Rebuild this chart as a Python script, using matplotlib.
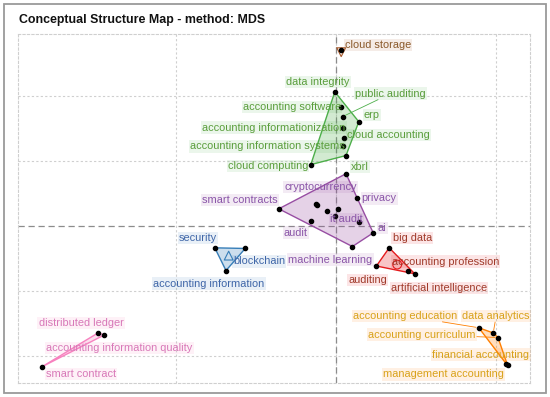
import numpy as np
import matplotlib
matplotlib.use("Agg")
import matplotlib.pyplot as plt
from matplotlib.patches import Polygon, Rectangle

plt.rcParams['font.family'] = ['Liberation Sans', 'DejaVu Sans']

# clusters: words, Dim1, Dim2
green_words = ["data integrity", "accounting software", "public auditing", "erp",
               "accounting informationization", "cloud accounting",
               "accounting information systems", "xbrl", "cloud computing"]
green_x = [-0.01, 0.03, 0.04, 0.14, 0.04, 0.05, 0.04, 0.06, -0.16]
green_y = [2.06, 1.83, 1.68, 1.60, 1.51, 1.35, 1.22, 1.08, 0.94]

purple_words = ["", "privacy", "smart contracts", "cryptocurrency", "", "", "",
                "it audit", "audit", "", "ai", "machine learning"]
purple_x = [0.06, 0.13, -0.36, -0.13, -0.12, -0.06, 0.01, -0.01, -0.16, 0.14, 0.23, 0.10]
purple_y = [0.80, 0.42, 0.26, 0.34, 0.32, 0.22, 0.26, 0.15, 0.08, 0.05, -0.11, -0.32]

blue_words = ["security", "blockchain", "accounting information"]
blue_x = [-0.76, -0.57, -0.69]
blue_y = [-0.34, -0.35, -0.69]

red_words = ["big data", "auditing", "accounting profession", "artificial intelligence"]
red_x = [0.33, 0.25, 0.45, 0.49]
red_y = [-0.34, -0.62, -0.69, -0.74]

orange_words = ["accounting education", "data analytics", "accounting curriculum",
                "financial accounting", "management accounting"]
orange_x = [0.89, 0.98, 1.01, 1.06, 1.07]
orange_y = [-1.57, -1.65, -1.72, -2.12, -2.15]

pink_words = ["distributed ledger", "accounting information quality", "smart contract"]
pink_x = [-1.49, -1.45, -1.84]
pink_y = [-1.65, -1.68, -2.17]

brown_words = ["cloud storage"]
brown_x = [0.03]
brown_y = [2.71]

# label offsets in pixels (dx right, dy up)
label_off = {
    "cloud storage": (37, 5),
    "data integrity": (-17, 10), "public auditing": (48, 23), "accounting software": (-49, 0),
    "erp": (13, 7), "accounting informationization": (-69, 0), "cloud accounting": (44, 3),
    "accounting information systems": (-75, 0), "xbrl": (14, -11), "cloud computing": (-43, -1),
    "cryptocurrency": (5, 17), "smart contracts": (-39, 9), "privacy": (22, 0),
    "it audit": (12, -3), "ai": (9, 5), "audit": (-15, -12), "machine learning": (-22, -13),
    "security": (-17, 10), "blockchain": (14, -13), "accounting information": (-17, -13),
    "big data": (23, 10), "accounting profession": (37, 9), "auditing": (-9, -14),
    "artificial intelligence": (24, -14),
    "accounting education": (-74, 12), "data analytics": (3, 17),
    "accounting curriculum": (-76, 3), "financial accounting": (-25, 9),
    "management accounting": (-64, -9),
    "distributed ledger": (-17, 10), "accounting information quality": (15, -13),
    "smart contract": (39, -7),
}
segments = {"public auditing", "accounting education", "data analytics", "accounting curriculum"}

clusters = [
    (green_words, green_x, green_y, "#4DAF4A", "#5a9e3c", None),
    (purple_words, purple_x, purple_y, "#984EA3", "#8a55a8", None),
    (blue_words, blue_x, blue_y, "#377EB8", "#3f66a8", "^"),
    (red_words, red_x, red_y, "#E41A1C", "#a03a2a", "o"),
    (orange_words, orange_x, orange_y, "#FF7F00", "#d9a21a", None),
    (pink_words, pink_x, pink_y, "#F781BF", "#d878b8", None),
    (brown_words, brown_x, brown_y, "#A65628", "#8b5a2b", "v"),
]


def hull(pts):
    pts = sorted(set(pts))
    if len(pts) < 3:
        return pts
    def cross(o, a, b):
        return (a[0]-o[0])*(b[1]-o[1]) - (a[1]-o[1])*(b[0]-o[0])
    lo, up = [], []
    for p in pts:
        while len(lo) >= 2 and cross(lo[-2], lo[-1], p) <= 0:
            lo.pop()
        lo.append(p)
    for p in reversed(pts):
        while len(up) >= 2 and cross(up[-2], up[-1], p) <= 0:
            up.pop()
        up.append(p)
    return lo[:-1] + up[:-1]


fig = plt.figure(figsize=(5.5, 3.97), dpi=100)
ax = fig.add_axes([18/550, 1-383/397, 512/550, 349/397])
ax.set_xlim(-1.99, 1.21)
ax.set_ylim(-2.42, 2.95)
ax.set_xticks([-1, 0, 1])
ax.set_yticks([-2, -1, 1, 2])
ax.tick_params(length=0, labelbottom=False, labelleft=False)
ax.grid(True, ls=(0, (2, 2)), color="#cfcfcf", lw=0.8)
for s in ax.spines.values():
    s.set_linestyle((0, (2, 2)))
    s.set_color("#cfcfcf")
    s.set_linewidth(0.8)
ax.axhline(0, ls=(0, (5, 3)), color="#8c8c8c", lw=0.9)
ax.axvline(0, ls=(0, (5, 3)), color="#8c8c8c", lw=0.9)

for words, xs, ys, col, tcol, cmark in clusters:
    pts = list(zip(xs, ys))
    h = hull(pts)
    if len(h) >= 3:
        ax.add_patch(Polygon(h, closed=True, facecolor=col, alpha=0.25, edgecolor="none", zorder=2))
        ax.add_patch(Polygon(h, closed=True, facecolor="none", edgecolor=col, lw=1.0, zorder=2))
    if cmark:
        ax.scatter([np.mean(xs)], [np.mean(ys) - (0.04 if cmark == "v" else 0)], marker=cmark,
                   s=40, facecolor="none", edgecolor=col, lw=0.8, zorder=3)
    ax.scatter(xs, ys, s=9, color="black", zorder=4)
    for w, x, y in zip(words, xs, ys):
        if not w:
            continue
        dx, dy = label_off[w]
        arrow = None
        if w in segments:
            arrow = dict(arrowstyle="-", color=col, lw=0.6, shrinkA=0, shrinkB=2)
        ax.annotate(w, (x, y), xytext=(dx, dy), textcoords="offset pixels",
                    ha="center", va="center", fontsize=7.9, color=tcol, zorder=5,
                    bbox=dict(boxstyle="square,pad=0.1", fc=col, alpha=0.11, ec="none"),
                    arrowprops=arrow)

fig.text(19/550, 1-20/397, "Conceptual Structure Map - method: MDS", fontsize=8.9,
         fontweight="bold", ha="left", va="center", color="#111111")
fig.patches.append(Rectangle((4/550, 1-393/397), 542/550, 389/397, transform=fig.transFigure,
                             fill=False, edgecolor="#9a9a9a", lw=1.3))

fig.savefig("out.png", dpi=100)
